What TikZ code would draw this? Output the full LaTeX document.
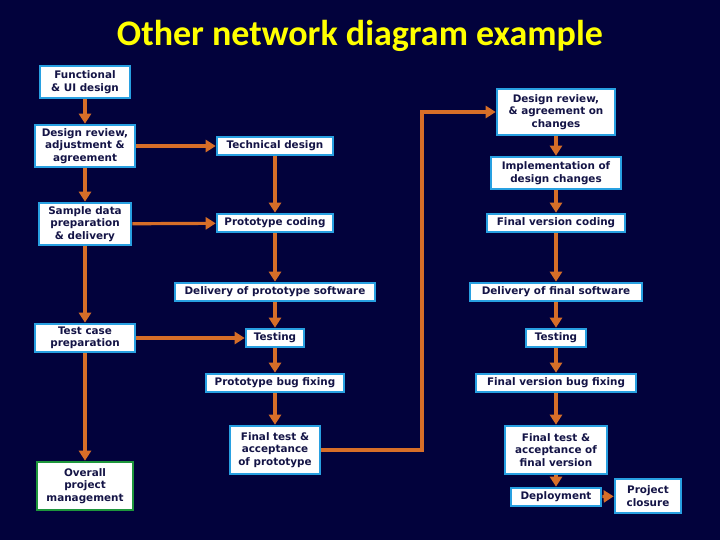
\documentclass[tikz,border=0pt]{standalone}
\usepackage{fontspec}
\setmainfont{DejaVu Sans}
\newfontfamily\titlefont{Carlito}
\usetikzlibrary{arrows.meta}
\definecolor{navybg}{RGB}{2,2,60}
\definecolor{boxedge}{RGB}{40,160,225}
\definecolor{boxtext}{RGB}{20,20,70}
\definecolor{flow}{RGB}{215,110,40}
\definecolor{titleyel}{RGB}{255,255,0}
\definecolor{mgmt}{RGB}{30,150,60}
\begin{document}
\begin{tikzpicture}[x=0.5pt,y=-0.5pt]
  \tikzset{
    task/.style={draw=boxedge,line width=1.3pt,fill=white,text=boxtext,
      font=\fontsize{5.2}{6.2}\selectfont\bfseries,align=center,inner sep=1pt},
    link/.style={draw=flow,line width=1.6pt,-{Triangle[length=5pt,width=6pt]}}
  }
  \fill[navybg] (0,0) rectangle (720,540);
  \node[text=titleyel,font=\titlefont\fontsize{18}{20}\selectfont\bfseries] (title) at (360,36) {Other network diagram example};

  % left column
  \node[task,minimum width=45pt,minimum height=16pt] (fui) at (85,82) {Functional\\\& UI design};
  \node[task,minimum width=50pt,minimum height=21pt] (dra) at (85,146) {Design review,\\adjustment \&\\agreement};
  \node[task,minimum width=46pt,minimum height=21pt] (sdp) at (85,224) {Sample data\\preparation\\\& delivery};
  \node[task,minimum width=50pt,minimum height=14pt] (tcp) at (85,338) {Test case\\preparation};
  \node[task,draw=mgmt,minimum width=48pt,minimum height=24pt] (opm) at (85,486) {Overall\\project\\management};

  % prototype column
  \node[task,minimum width=58pt,minimum height=9pt] (td) at (275,146) {Technical design};
  \node[task,minimum width=58pt,minimum height=9pt] (pc) at (275,223) {Prototype coding};
  \node[task,minimum width=100pt,minimum height=9pt] (dps) at (275,292) {Delivery of prototype software};
  \node[task,minimum width=29pt,minimum height=9pt] (t1) at (275,338) {Testing};
  \node[task,minimum width=69pt,minimum height=9pt] (pbf) at (275,383) {Prototype bug fixing};
  \node[task,minimum width=45pt,minimum height=24pt] (ft1) at (275,450) {Final test \&\\acceptance\\of prototype};

  % final version column
  \node[task,minimum width=59pt,minimum height=23pt] (drc) at (556,112) {Design review,\\\& agreement on\\changes};
  \node[task,minimum width=65pt,minimum height=16pt] (idc) at (556,173) {Implementation of\\design changes};
  \node[task,minimum width=69pt,minimum height=9pt] (fvc) at (556,223) {Final version coding};
  \node[task,minimum width=86pt,minimum height=9pt] (dfs) at (556,292) {Delivery of final software};
  \node[task,minimum width=30pt,minimum height=9pt] (t2) at (556,338) {Testing};
  \node[task,minimum width=80pt,minimum height=9pt] (fvbf) at (556,383) {Final version bug fixing};
  \node[task,minimum width=51pt,minimum height=24pt] (ft2) at (556,450) {Final test \&\\acceptance of\\final version};
  \node[task,minimum width=45pt,minimum height=9pt] (dep) at (556,497) {Deployment};
  \node[task,minimum width=33pt,minimum height=17pt] (pcl) at (648,496) {Project\\closure};

  \coordinate (bendlo) at (422,450);
  \coordinate (bendhi) at (422,112);

  \draw[link] (fui) -- (dra);
  \draw[link] (dra) -- (sdp);
  \draw[link] (sdp) -- (tcp);
  \draw[link] (tcp) -- (opm);
  \draw[link] (dra) -- (td);
  \draw[link] (sdp) -- (pc);
  \draw[link] (tcp) -- (t1);
  \draw[link] (td) -- (pc);
  \draw[link] (pc) -- (dps);
  \draw[link] (dps) -- (t1);
  \draw[link] (t1) -- (pbf);
  \draw[link] (pbf) -- (ft1);
  \draw[link] (ft1) -- (bendlo) -- (bendhi) -- (drc);
  \draw[link] (drc) -- (idc);
  \draw[link] (idc) -- (fvc);
  \draw[link] (fvc) -- (dfs);
  \draw[link] (dfs) -- (t2);
  \draw[link] (t2) -- (fvbf);
  \draw[link] (fvbf) -- (ft2);
  \draw[link] (ft2) -- (dep);
  \draw[link] (dep) -- (pcl);
\end{tikzpicture}
\end{document}
